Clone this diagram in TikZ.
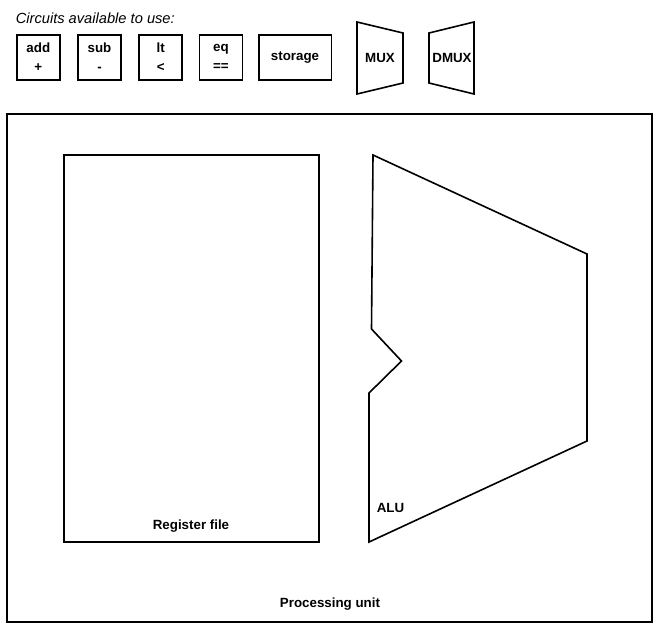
\documentclass[tikz,border=0pt]{standalone}
\usepackage{fontspec}
\setmainfont{Liberation Sans}
\usetikzlibrary{positioning}

\begin{document}
\begin{tikzpicture}
		[x=0.75pt, y=-0.75pt, line width=1.2pt, line join=miter,
		% STYLES
		% The caption style is used for the heading above the circuits
		caption/.style={inner sep=0pt, anchor=base west, font=\fontsize{11}{13}\selectfont\itshape},
		% The circuit style is used to draw the small circuit boxes
		circuit/.style={rectangle, draw, inner sep=2pt, minimum width=32.2pt, minimum height=34pt, align=center, font=\fontsize{10}{14}\selectfont\bfseries},
		% The label style is used for the names inside the big parts
		label/.style={inner sep=0pt, font=\fontsize{10}{12}\selectfont\bfseries}]

		\useasboundingbox (0,0) rectangle (659,628);

		% Circuits available
		\node [caption] (caption) at (15,23) {Circuits available to use:};
		\node [circuit] (add) at (38.3,57.5) {add\\+};
		\node [circuit, right=12.5pt of add] (sub) {sub\\-};
		\node [circuit, right=12.5pt of sub] (lt) {lt\\<};
		\node [circuit, right=11.8pt of lt] (eq) {eq\\==};
		\node [circuit, minimum width=54.5pt, right=11pt of eq] (storage) {storage};

		% MUX and DMUX
		\draw (357,22) -- (403,33) -- (403,83) -- (357,94) -- cycle;
		\node [label] (mux) at (380,58) {MUX};
		\draw (429,33) -- (474,22) -- (474,94) -- (429,83) -- cycle;
		\node [label] (dmux) at (452,58) {DMUX};

		%%%%%%%%%%%%%%%%
		% Processing unit
		\draw (7,114) rectangle (652,622);
		\node [label] (pu) at (330,604) {Processing unit};

		% Register file
		\draw (64,155) rectangle (319,542);
		\node [label] (regfile) at (191,526) {Register file};

		% ALU
		\draw (373,155) -- (587,254) -- (587,441) -- (369,542) -- (369,393)
			-- (401.5,361) -- (371.5,329) -- cycle;
		\node [label, anchor=west] (alu) at (376,508) {ALU};
    \end{tikzpicture}
\end{document}
